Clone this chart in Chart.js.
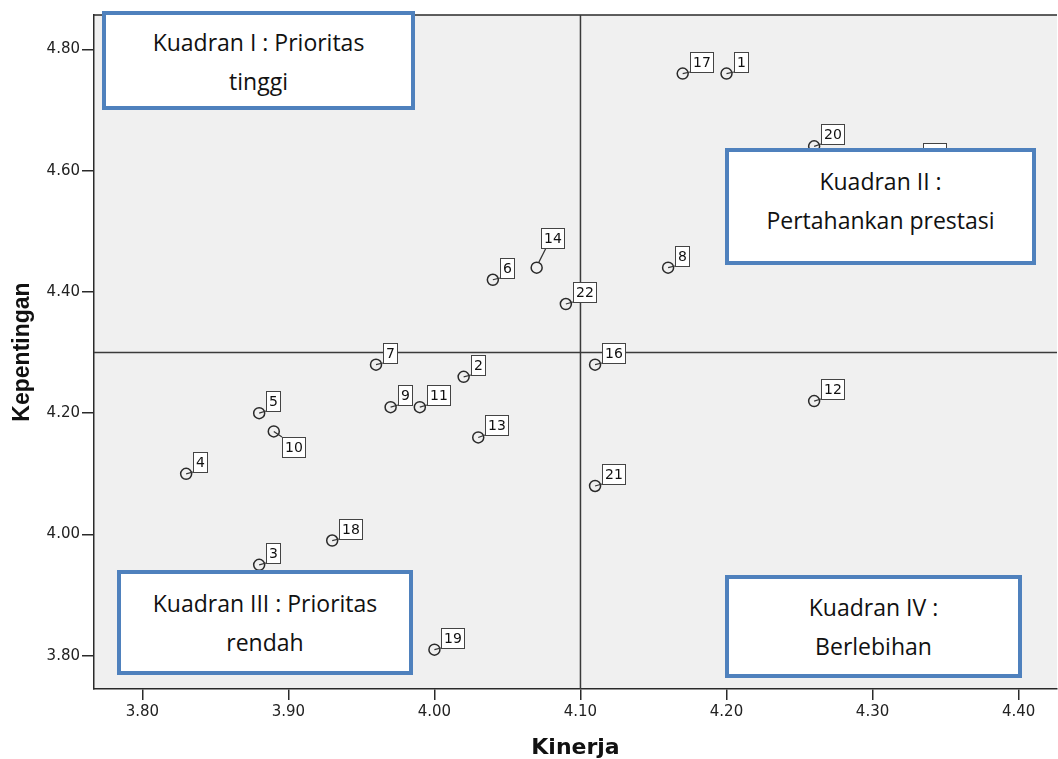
<!DOCTYPE html>
<html>
<head>
<meta charset="utf-8">
<title>Kinerja vs Kepentingan</title>
<script src="https://cdn.jsdelivr.net/npm/chart.js@4/dist/chart.umd.min.js"></script>
<style>
    html, body { margin: 0; background: #fff; overflow: hidden; }
    #wrap { position: relative; width: 1058px; height: 759px; overflow: hidden; }
    #chart { position: absolute; left: 0; top: 0; }
    .kotak {
        position: absolute;
        box-sizing: border-box;
        border: 4px solid #4f81bd;
        background: #fff;
        display: flex;
        align-items: center;
        justify-content: center;
        text-align: center;
        font-family: "Open Sans", sans-serif;
        font-size: 23px;
        line-height: 39px;
        color: #111;
    }
</style>
</head>
<body>
<div id="wrap">
    <!-- kanvas sedikit lebih lebar: bingkai kanan plot terpotong seperti di gambar asli -->
    <canvas id="chart" width="1064" height="759"></canvas>
    <div class="kotak" style="left:102px; top:11px; width:313px; height:99px; padding-top:2px;">Kuadran I : Prioritas<br>tinggi</div>
    <div class="kotak" style="left:725px; top:148px; width:311px; height:117px; padding-bottom:12px;">Kuadran II :<br>Pertahankan prestasi</div>
    <div class="kotak" style="left:117px; top:570px; width:296px; height:105px;">Kuadran III : Prioritas<br>rendah</div>
    <div class="kotak" style="left:725px; top:575px; width:297px; height:103px;">Kuadran IV :<br>Berlebihan</div>
</div>

<script>
// Data atribut (nomor, kinerja, kepentingan)
const atribut = ['1', '2', '3', '4', '5', '6', '7', '8', '9', '10', '11',
                 '12', '13', '14', '15', '16', '17', '18', '19', '20', '21', '22'];
const kinerja = [4.20, 4.02, 3.88, 3.83, 3.88, 4.04, 3.96, 4.16, 3.97, 3.89, 3.99,
                 4.26, 4.03, 4.07, 4.33, 4.11, 4.17, 3.93, 4.00, 4.26, 4.11, 4.09];
const kepentingan = [4.76, 4.26, 3.95, 4.10, 4.20, 4.42, 4.28, 4.44, 4.21, 4.17, 4.21,
                     4.22, 4.16, 4.44, 4.61, 4.28, 4.76, 3.99, 3.81, 4.64, 4.08, 4.38];

// Garis pembagi kuadran (rata-rata)
const rataKinerja = 4.10;
const rataKepentingan = 4.30;

// Label sumbu
const xTicks = [3.80, 3.90, 4.00, 4.10, 4.20, 4.30, 4.40];
const yTicks = [3.80, 4.00, 4.20, 4.40, 4.60, 4.80];

// Posisi label yang tidak di kanan atas titik
const posisiLabel = { '10': 'bawah', '14': 'atas' };

const AXIS_COLOR = '#2a2a2a';
const TICK_FONT = { family: 'DejaVu Sans', size: 15 };

// Latar abu-abu area plot + bingkai atas
const latarPlot = {
    id: 'latarPlot',
    beforeDraw(chart) {
        const { ctx, chartArea: a } = chart;
        ctx.save();
        ctx.fillStyle = '#f0f0f0';
        ctx.fillRect(a.left, a.top, a.right - a.left, a.bottom - a.top);
        ctx.strokeStyle = AXIS_COLOR;
        ctx.lineWidth = 1.5;
        ctx.beginPath();
        ctx.moveTo(a.left, a.top);
        ctx.lineTo(a.right, a.top);
        ctx.stroke();
        ctx.restore();
    },
    beforeDatasetsDraw(chart) {
        // garis kuadran
        const { ctx, chartArea: a, scales } = chart;
        const px = scales.x.getPixelForValue(rataKinerja);
        const py = scales.y.getPixelForValue(rataKepentingan);
        ctx.save();
        ctx.strokeStyle = '#3a3a3a';
        ctx.lineWidth = 1.5;
        ctx.beginPath();
        ctx.moveTo(px, a.top);
        ctx.lineTo(px, a.bottom);
        ctx.moveTo(a.left, py);
        ctx.lineTo(a.right, py);
        ctx.stroke();
        ctx.restore();
    }
};

// Label nomor atribut di samping titik
const labelTitik = {
    id: 'labelTitik',
    afterDatasetsDraw(chart) {
        const ctx = chart.ctx;
        const meta = chart.getDatasetMeta(0);
        ctx.save();
        ctx.font = '14px "DejaVu Sans"';
        ctx.textAlign = 'center';
        ctx.textBaseline = 'middle';
        meta.data.forEach((pt, i) => {
            const txt = atribut[i];
            const w = Math.round(ctx.measureText(txt).width + 5);
            const h = 20;
            const pos = posisiLabel[txt] || 'kanan';
            let bx, by, sx = pt.x, sy = pt.y, lx, ly;
            if (pos === 'bawah') {
                bx = Math.round(pt.x + 8); by = Math.round(pt.y + 6);
                lx = bx; ly = by;
            } else if (pos === 'atas') {
                bx = Math.round(pt.x + 4); by = Math.round(pt.y - 40);
                lx = bx + 5; ly = by + h;
                sx = pt.x + 2; sy = pt.y - 5;
            } else {
                bx = Math.round(pt.x + 7); by = Math.round(pt.y - 2 - h);
                lx = bx; ly = by + h;
            }
            ctx.strokeStyle = '#333';
            ctx.lineWidth = 1.2;
            ctx.beginPath();
            ctx.moveTo(sx, sy);
            ctx.lineTo(lx, ly);
            ctx.stroke();
            ctx.fillStyle = '#fff';
            ctx.fillRect(bx, by, w, h);
            ctx.lineWidth = 1;
            ctx.strokeStyle = '#444';
            ctx.strokeRect(bx + 0.5, by + 0.5, w, h);
            ctx.fillStyle = '#111';
            ctx.fillText(txt, bx + w / 2 + 0.5, by + h / 2 + 1);
        });
        ctx.restore();
    }
};

const ctx = document.getElementById('chart').getContext('2d');
new Chart(ctx, {
    type: 'scatter',
    data: {
        datasets: [{
            label: 'Atribut',
            data: kinerja.map((k, i) => ({ x: k, y: kepentingan[i] })),
            pointStyle: 'circle',
            pointRadius: 5.5,
            pointBorderWidth: 1.5,
            pointBorderColor: '#2a2a2a',
            pointBackgroundColor: 'rgba(0,0,0,0)'
        }]
    },
    options: {
        responsive: false,
        animation: false,
        layout: { padding: { top: 15, right: 0, bottom: 0, left: 0 } },
        plugins: {
            legend: { display: false },
            tooltip: { enabled: false }
        },
        scales: {
            x: {
                type: 'linear',
                min: 3.7669,
                max: 4.4263,
                afterBuildTicks: s => { s.ticks = xTicks.map(v => ({ value: v })); },
                afterFit: s => { s.height = 70; s.paddingLeft = 0; s.paddingRight = 0; },
                ticks: {
                    callback: v => v.toFixed(2),
                    color: '#222',
                    font: TICK_FONT,
                    padding: 3,
                    maxRotation: 0
                },
                grid: { drawOnChartArea: false, drawTicks: true, tickLength: 11, color: AXIS_COLOR, lineWidth: 1.5 },
                border: { display: true, color: AXIS_COLOR, width: 1.5 },
                title: {
                    display: true,
                    text: 'Kinerja',
                    color: '#111',
                    font: { family: 'DejaVu Sans', size: 22, weight: 'bold', lineHeight: 1 },
                    padding: { top: 0, bottom: 0 }
                }
            },
            y: {
                type: 'linear',
                min: 3.7452,
                max: 4.8566,
                afterBuildTicks: s => { s.ticks = yTicks.map(v => ({ value: v })); },
                afterFit: s => { s.width = 94; s.paddingTop = 0; s.paddingBottom = 0; },
                ticks: {
                    callback: v => v.toFixed(2),
                    color: '#222',
                    font: TICK_FONT,
                    padding: 2
                },
                grid: { drawOnChartArea: false, drawTicks: true, tickLength: 12, color: AXIS_COLOR, lineWidth: 1.5 },
                border: { display: true, color: AXIS_COLOR, width: 1.5 },
                title: {
                    display: true,
                    text: 'Kepentingan',
                    color: '#111',
                    font: { family: 'Liberation Sans', size: 23, weight: 'bold', lineHeight: 1 },
                    padding: { top: 11, bottom: 0 }
                }
            }
        }
    },
    plugins: [latarPlot, labelTitik]
});
</script>
</body>
</html>
